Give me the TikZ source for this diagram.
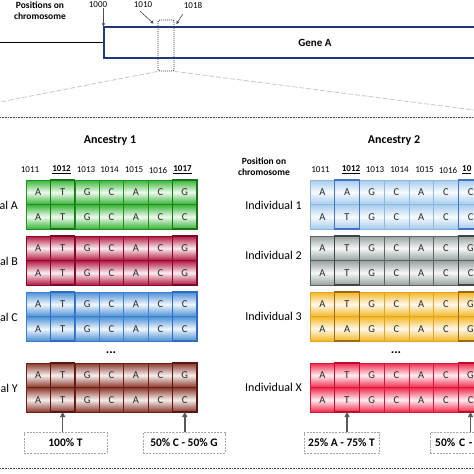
\documentclass[tikz,border=0pt]{standalone}
\usepackage{fontspec}
\setmainfont{Carlito}
\usetikzlibrary{arrows.meta}
\definecolor{gA}{HTML}{35B535}\definecolor{gAl}{HTML}{1F8F1F}\definecolor{gAh}{HTML}{177517}
\definecolor{rB}{HTML}{B3163F}\definecolor{rBl}{HTML}{8C0A2E}\definecolor{rBh}{HTML}{7A0826}
\definecolor{bC}{HTML}{4A8FD6}\definecolor{bCl}{HTML}{3C7FD0}\definecolor{bCh}{HTML}{2E6CC2}
\definecolor{brY}{HTML}{8A3528}\definecolor{brYl}{HTML}{6B2018}\definecolor{brYh}{HTML}{5A1810}
\definecolor{lb1}{HTML}{A4CBEE}\definecolor{lb1l}{HTML}{8FB8E0}\definecolor{lb1h}{HTML}{4472C4}
\definecolor{gr2}{HTML}{95A0A0}\definecolor{gr2l}{HTML}{5C6464}\definecolor{gr2h}{HTML}{3F4545}
\definecolor{or3}{HTML}{F4B622}\definecolor{or3l}{HTML}{E0A622}\definecolor{or3h}{HTML}{9C6A10}
\definecolor{rX}{HTML}{F0284C}\definecolor{rXl}{HTML}{D41838}\definecolor{rXh}{HTML}{B80E2C}
\definecolor{navy}{HTML}{1F3A78}
\newcommand\seqrow[7]{%
  \shade[top color=#4, bottom color=#4, middle color=#4!8!white] (#1,#2) rectangle ++({7*#3},24.5);
  \foreach \ch [count=\i] in {#6} {
    \draw[#5, line width=0.6pt] ({#1+(\i-1)*#3},#2) rectangle ++(#3,24.5);
    \node[cell] (#7-\i) at ({#1+(\i-0.5)*#3},{#2+12.25}) {\ch};
  }
}
\newcommand\seqblock[9]{%
  \seqrow{#1}{#2}{#3}{#4}{#5}{#7}{#9-a}
  \seqrow{#1}{#2+24.5}{#3}{#4}{#5}{#8}{#9-b}
  \draw[#6, line width=1.1pt] ({#1+#3},#2) rectangle ++(#3,49);
  \draw[#6, line width=1.1pt] ({#1+6*#3},#2) rectangle ++(#3,49);
  \coordinate (#9-c2) at ({#1+1.5*#3},{#2+49});
  \coordinate (#9-c7) at ({#1+6.5*#3},{#2+49});
}
\begin{document}
\begin{tikzpicture}[x=1pt,y=-1pt,
  cell/.style={font=\fontsize{10.5}{12}\selectfont, text=black!85, inner sep=0pt},
  num/.style={font=\fontsize{9}{11}\selectfont, inner sep=0pt},
  poslab/.style={font=\bfseries\fontsize{9.5}{11}\selectfont, align=center, inner sep=0pt},
  title/.style={font=\bfseries\fontsize{12}{14}\selectfont, inner sep=0pt},
  indlab/.style={font=\fontsize{12}{14}\selectfont, inner sep=0pt},
  pctbox/.style={draw=gray!70, dashed, dash pattern=on 2pt off 1.2pt, fill=white, font=\bfseries\fontsize{11.5}{13}\selectfont, minimum height=21pt, inner sep=0pt},
  uparrow/.style={draw=black!65, line width=1.5pt, -{Triangle[length=5pt,width=5pt]}},
  tinyarrow/.style={draw=black!70, line width=0.6pt, -{Triangle[length=3pt,width=3pt]}},
  sepline/.style={draw=black!75, line width=1pt, dash pattern=on 0.8pt off 0.8pt},
  zoomline/.style={draw=black!22, line width=0.8pt, dash pattern=on 5pt off 2pt},
  genebox/.style={draw=navy, line width=1.2pt, fill=white, inner sep=0pt},
  dots/.style={font=\bfseries\fontsize{13}{14}\selectfont, inner sep=0pt}]
\useasboundingbox (0,0) rectangle (474,474);
\clip (0,0) rectangle (474,474);
\fill[white] (0,0) rectangle (474,474);
% top part
\node[poslab] (posl) at (40,10.5) {Positions on\\chromosome};
\node[genebox, minimum width=422pt, minimum height=31pt] (gene) at (315,42.5) {};
\node[font=\bfseries\fontsize{11}{13}\selectfont, inner sep=0pt] (geneA) at (315,43) {Gene A};
\coordinate (chrstart) at (0,42.5);
\draw[line width=1pt] (chrstart) -- (gene.west);
\node[draw=black!80, line width=0.8pt, dash pattern=on 1pt off 1pt, rounded corners=2pt, minimum width=16pt, minimum height=51pt, inner sep=0pt] (zoombox) at (166,45.5) {};
\node[num] (p1000) at (98,5) {1000};
\node[num] (p1010) at (143,5) {1010};
\node[num] (p1018) at (193,5) {1018};
\draw[tinyarrow] (gene.north west |- p1000.south) -- (gene.north west);
\draw[tinyarrow] ([xshift=-3pt,yshift=-3pt]p1010.south) -- ([xshift=-4pt,yshift=-4pt]zoombox.north west);
\draw[tinyarrow] ([xshift=-1pt,yshift=-6pt]p1018.south west) -- ([xshift=2pt,yshift=-4.5pt]zoombox.north east);
\coordinate (zl) at (0,102);
\coordinate (zr) at (474,110);
\draw[zoomline] (zoombox.south west) -- (zl);
\draw[zoomline] (zoombox.south east) -- (zr);
\coordinate (s1l) at (0,117.5);
\coordinate (s1r) at (474,117.5);
\draw[sepline] (s1l) -- (s1r);
\coordinate (s2l) at (0,468);
\coordinate (s2r) at (474,468);
\draw[sepline] (s2l) -- (s2r);
% Ancestry 1
\node[title] (anc1) at (110,141) {Ancestry 1};
\foreach \n/\x [count=\k] in {1011/30,\underline{\textbf{1012}}/61.5,1013/86,1014/109.5,1015/134,1016/158,\underline{\textbf{1017}}/182.5}
  \node[num] (nl\k) at (\x,170) {\n};
\seqblock{26}{180}{24.43}{gA}{gAl}{gAh}{A,T,G,C,A,C,G}{A,T,G,C,A,C,C}{iA}
\seqblock{26}{236}{24.43}{rB}{rBl}{rBh}{A,T,G,C,A,C,G}{A,T,G,C,A,C,G}{iB}
\seqblock{26}{292}{24.43}{bC}{bCl}{bCh}{A,T,G,C,A,C,C}{A,T,G,C,A,C,C}{iC}
\seqblock{26}{363}{24.43}{brY}{brYl}{brYh}{A,T,G,C,A,C,G}{A,T,G,C,A,C,C}{iY}
\node[indlab, anchor=east] (labA) at (18,205) {al A};
\node[indlab, anchor=east] (labB) at (18,261) {al B};
\node[indlab, anchor=east] (labC) at (18,317) {al C};
\node[indlab, anchor=east] (labY) at (18,388) {al Y};
\node[dots] (dl) at (111,353) {...};
\node[pctbox, minimum width=83pt] (b1) at (65.5,443) {100\% T};
\node[pctbox, minimum width=82pt] (b2) at (184,443) {50\% C - 50\% G};
\draw[uparrow] (b1.north -| iY-c2) -- (iY-c2);
\draw[uparrow] (b2.north -| iY-c7) -- (iY-c7);
% Ancestry 2
\node[title] (anc2) at (394,141) {Ancestry 2};
\node[poslab] (posr) at (264,167) {Position on\\chromosome};
\foreach \n/\x [count=\k] in {1011/320.5,\underline{\textbf{1012}}/351,1013/375,1014/399.5,1015/424.5,1016/448}
  \node[num] (nr\k) at (\x,170) {\n};
\node[num, anchor=west] (nr7) at (462,170) {\underline{\textbf{10}}};
\seqblock{310}{180}{24.7}{lb1}{lb1l}{lb1h}{A,A,G,C,A,C,C}{A,T,G,C,A,C,C}{i1}
\seqblock{310}{236}{24.7}{gr2}{gr2l}{gr2h}{A,T,G,C,A,C,G}{A,T,G,C,A,C,C}{i2}
\seqblock{310}{292}{24.7}{or3}{or3l}{or3h}{A,T,G,C,A,C,G}{A,A,G,C,A,C,G}{i3}
\seqblock{310}{363}{24.7}{rX}{rXl}{rXh}{A,T,G,C,A,C,G}{A,T,G,C,A,C,C}{iX}
\node[indlab, anchor=east] (lab1) at (302,205) {Individual 1};
\node[indlab, anchor=east] (lab2) at (302,255) {Individual 2};
\node[indlab, anchor=east] (lab3) at (302,316) {Individual 3};
\node[indlab, anchor=east] (labX) at (302,387.5) {Individual X};
\node[dots] (dr) at (396,353) {...};
\node[pctbox, minimum width=75pt] (b3) at (341.5,443) {25\% A - 75\% T};
\node[pctbox, anchor=west, text width=40pt, align=left, inner xsep=5pt] (b4) at (430,443) {50\% C -};
\draw[uparrow] (b3.north -| iX-c2) -- (iX-c2);
\draw[uparrow] (b4.north -| iX-c7) -- (iX-c7);
\end{tikzpicture}
\end{document}
